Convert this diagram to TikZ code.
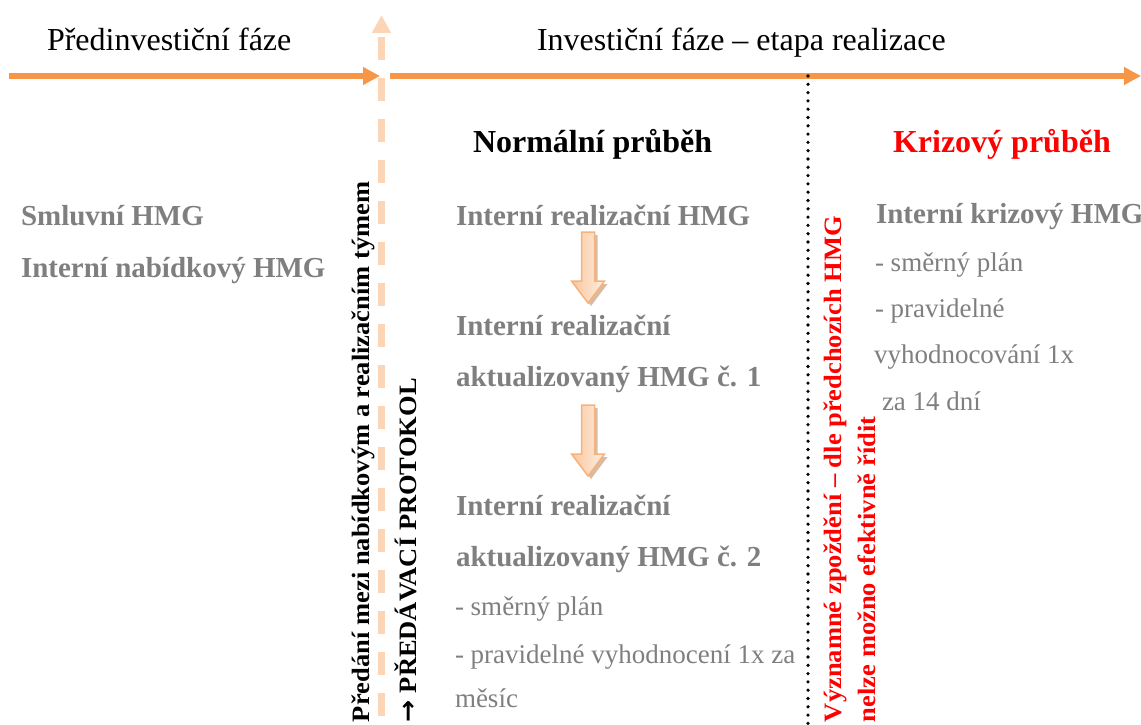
\documentclass[tikz,border=0pt]{standalone}
\usepackage{fontspec}
\usepackage{graphicx}
\setmainfont{Liberation Serif}
\newfontfamily\symbolfont{DejaVu Sans}
\usetikzlibrary{arrows.meta}

\definecolor{phase}{HTML}{F79646}
\definecolor{handover}{HTML}{FBD5B5}
\definecolor{plangrey}{HTML}{7F7F7F}
\definecolor{crisisred}{HTML}{FF0000}
\definecolor{arrowedge}{HTML}{F7B27C}
\definecolor{arrowlight}{HTML}{FDEEE2}
\definecolor{arrowdark}{HTML}{FAC79C}
\definecolor{arrowshadow}{HTML}{C9A585}

% vertical labels are set slightly wide
\newcommand\widetext[1]{\scalebox{1.06}[1]{#1}}

\tikzset{
  txt/.style={anchor=base west, inner sep=0pt, outer sep=0pt},
  phasetitle/.style={txt, font=\fontsize{32}{38}\selectfont},
  coltitle/.style={txt, font=\fontsize{32}{38}\selectfont\bfseries},
  plan/.style={txt, text=plangrey, font=\fontsize{29}{34}\selectfont\bfseries},
  note/.style={txt, text=plangrey, font=\fontsize{27}{32}\selectfont},
  sidenote/.style={txt, rotate=90, font=\fontsize{25}{29}\selectfont\bfseries},
  timeline/.style={draw=phase, line width=5.5pt, -{Triangle[length=17pt,width=17pt]}},
  handoverline/.style={draw=handover, line width=7pt,
    {Triangle[length=18pt,width=18pt]}-,
    dash pattern=on 23pt off 18pt, dash phase=36pt},
  separator/.style={draw=black, line width=3.6pt, line cap=round,
    dash pattern=on 0pt off 8.3pt},
  blockarrow/.pic={
    \fill[arrowshadow, opacity=0.75] (-3.5,-3) -- (9.5,-3) -- (9.5,-52) -- (19.5,-52)
      -- (3,-74) -- (-13.5,-52) -- (-3.5,-52) -- cycle;
    \shade[left color=arrowdark, right color=arrowlight, draw=arrowedge, line width=1.5pt]
      (-6.5,0) -- (6.5,0) -- (6.5,-49) -- (16.5,-49) -- (0,-71)
      -- (-16.5,-49) -- (-6.5,-49) -- cycle;
  }
}

\begin{document}
\begin{tikzpicture}[x=1pt,y=1pt]
\useasboundingbox (0,0) rectangle (1141,-725);

% hand-over between the phases
\coordinate (hTop) at (381.5,-15);
\coordinate (hBottom) at (381.5,-725);
\draw[handoverline] (hTop) -- (hBottom);

% time axis
\coordinate (t0) at (9,-76);
\coordinate (t1) at (380,-76);
\coordinate (t2) at (390,-76);
\coordinate (t3) at (1141,-76);
\draw[timeline] (t0) -- (t1);
\draw[timeline] (t2) -- (t3);

% normal / crisis boundary
\coordinate (sTop) at (808,-76);
\coordinate (sBottom) at (808,-725);
\draw[separator] (sTop) -- (sBottom);

% phase titles
\node[phasetitle] (pre) at (47,-51) {Předinvestiční fáze};
\node[phasetitle] (inv) at (537,-51) {Investiční fáze – etapa realizace};

% column titles
\node[coltitle] (normal) at (473,-152) {Normální průběh};
\node[coltitle, text=crisisred] (crisis) at (893,-152) {Krizový průběh};

% pre-investment schedules
\node[plan] (contract) at (21,-225) {Smluvní HMG};
\node[plan] (offer) at (21,-277) {Interní nabídkový HMG};

% normal course
\node[plan] (real0) at (456,-225) {Interní realizační HMG};
\node[plan] (real1a) at (456,-335) {Interní realizační};
\node[plan] (real1b) at (456,-386) {aktualizovaný HMG č. 1};
\node[plan] (real2a) at (456,-515) {Interní realizační};
\node[plan] (real2b) at (456,-566) {aktualizovaný HMG č. 2};
\node[note] (n1) at (455,-615) {- směrný plán};
\node[note] (n2) at (455,-663) {- pravidelné vyhodnocení 1x za};
\node[note] (n3) at (455,-707) {měsíc};

\pic at (588,-232) {blockarrow};
\pic at (588,-405) {blockarrow};

% crisis course
\node[plan] (crisisplan) at (876,-223) {Interní krizový HMG};
\node[note] (c1) at (875,-271) {- směrný plán};
\node[note] (c2) at (875,-317) {- pravidelné};
\node[note] (c3) at (874,-363) {vyhodnocování 1x};
\node[note] (c4) at (882,-410) {za 14 dní};

% vertical labels
\node[sidenote] (handA) at (369,-722) {\widetext{Předání mezi nabídkovým a realizačním týmem}};
\node[sidenote] (handB) at (416,-722) {\widetext{{\symbolfont →} PŘEDÁVACÍ PROTOKOL}};
\node[sidenote, text=crisisred] (delayA) at (841,-722) {\widetext{Významné zpoždění – dle předchozích HMG}};
\node[sidenote, text=crisisred] (delayB) at (875,-722) {\widetext{nelze možno efektivně řídit}};
\end{tikzpicture}
\end{document}
